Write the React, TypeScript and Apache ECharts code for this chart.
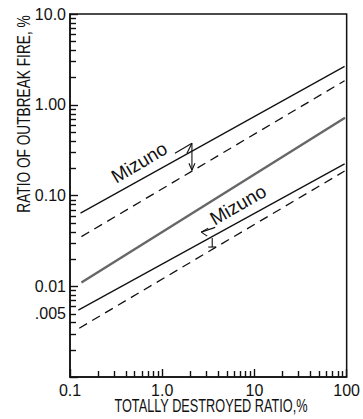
import React, { useEffect, useRef } from "react";
import * as echarts from "echarts";

const X_MIN = 0.1;
const X_MAX = 100;
const Y_MIN = 0.001;
const Y_MAX = 10;

const xMinorTicks = [0.2, 0.3, 0.4, 0.5, 0.6, 0.7, 0.8, 0.9, 2, 3, 4, 5, 6, 7, 8, 9, 20, 30, 40, 50, 60, 70, 80, 90];
const yMinorTicks = [
  0.002, 0.003, 0.004, 0.005, 0.006, 0.007, 0.008, 0.009,
  0.02, 0.03, 0.04, 0.05, 0.06, 0.07, 0.08, 0.09,
  0.2, 0.3, 0.4, 0.5, 0.6, 0.7, 0.8, 0.9,
  2, 3, 4, 5, 6, 7, 8, 9,
];

const xLabelValues = [0.1, 1, 10, 100];
const xLabelTexts = ["0.1", "1.0", "10", "100"];
const yLabelValues = [10, 1, 0.1, 0.01];
const yLabelTexts = ["10.0", "1.00", "0.10", "0.01"];
const yExtraLabelValues = [0.005];
const yExtraLabelTexts = [".005"];

// straight lines on log-log axes: [x start, x end], [y start, y end]
const line1X = [0.13, 95];
const line1Y = [0.064, 2.65];
const line2X = [0.133, 95];
const line2Y = [0.0352, 1.84];
const line3X = [0.133, 96];
const line3Y = [0.011, 0.72];
const line4X = [0.123, 95];
const line4Y = [0.00546, 0.223];
const line5X = [0.126, 95];
const line5Y = [0.00345, 0.186];

const annoText = "Mizuno";
const upperTextX = 0.33;
const upperArrowX = 2.1;
const lowerTextX = 3.85;
const lowerArrowX = 3.4;

const FONT = "'Liberation Sans', Arial, sans-serif";
const INK = "#111";

function lineY(xs: number[], ys: number[], x: number) {
  const t = (Math.log10(x) - Math.log10(xs[0])) / (Math.log10(xs[1]) - Math.log10(xs[0]));
  return Math.pow(10, Math.log10(ys[0]) + t * (Math.log10(ys[1]) - Math.log10(ys[0])));
}

function labelFor(values: number[], texts: string[], v: number) {
  for (let i = 0; i < values.length; i++) {
    if (Math.abs(Math.log10(v) - Math.log10(values[i])) < 1e-6) return texts[i];
  }
  return "";
}

export default function App() {
  const ref = useRef<HTMLDivElement>(null);
  useEffect(() => {
    if (!ref.current) return;
    const chart = echarts.init(ref.current, null, { renderer: "svg" });

    const mkLine = (xs: number[], ys: number[], width: number, type: any, color: string) => ({
      type: "line",
      data: [[xs[0], ys[0]], [xs[1], ys[1]]],
      showSymbol: false,
      symbol: "none",
      lineStyle: { color, width, type },
      silent: true,
      z: 3,
    });

    const axisCommon = {
      type: "log",
      logBase: 10,
      axisLine: { show: true, lineStyle: { color: INK, width: 1.5 } },
      axisTick: { show: true, inside: true, length: 8, lineStyle: { color: INK, width: 1.4 } },
      splitLine: { show: false },
      minorTick: { show: false },
    };

    chart.setOption({
      animation: false,
      backgroundColor: "#fff",
      grid: { left: 70, right: 11, top: 14, bottom: 42, show: true, borderColor: INK, borderWidth: 1.5 },
      xAxis: {
        ...axisCommon,
        min: X_MIN,
        max: X_MAX,
        axisLabel: {
          margin: 5,
          color: INK,
          fontSize: 16,
          fontFamily: FONT,
          formatter: (v: number) => labelFor(xLabelValues, xLabelTexts, v),
        },
      },
      yAxis: {
        ...axisCommon,
        min: Y_MIN,
        max: Y_MAX,
        axisLabel: {
          margin: 4,
          color: INK,
          fontSize: 16,
          fontFamily: FONT,
          formatter: (v: number) => labelFor(yLabelValues, yLabelTexts, v),
        },
      },
      series: [
        mkLine(line1X, line1Y, 1.3, "solid", INK),
        mkLine(line2X, line2Y, 1.3, [9, 6], INK),
        mkLine(line3X, line3Y, 2.4, "solid", "#666"),
        mkLine(line4X, line4Y, 1.3, "solid", INK),
        mkLine(line5X, line5Y, 1.3, [9, 6], INK),
      ],
    });

    const px = (x: number, y: number) =>
      chart.convertToPixel({ xAxisIndex: 0, yAxisIndex: 0 }, [x, y]) as number[];
    const angleOf = (xs: number[], ys: number[]) => {
      const a = px(xs[0], ys[0]);
      const b = px(xs[1], ys[1]);
      return Math.atan2(a[1] - b[1], b[0] - a[0]);
    };
    const ln = (x1: number, y1: number, x2: number, y2: number, w = 1.1) => ({
      type: "line",
      shape: { x1, y1, x2, y2 },
      style: { stroke: INK, lineWidth: w },
      z: 10,
    });
    const tk = (x1: number, y1: number, x2: number, y2: number) => ({
      type: "polyline",
      shape: { points: [[x1, y1], [x2, y2]] },
      style: { stroke: INK, lineWidth: 1.4, fill: null },
      z: 12,
    });

    const ticks: any[] = [];
    xMinorTicks.forEach((v) => {
      const p = px(v, Y_MIN);
      ticks.push(tk(Math.round(p[0]) + 0.5, p[1], Math.round(p[0]) + 0.5, p[1] - 6));
    });
    yMinorTicks.forEach((v) => {
      const p = px(X_MIN, v);
      ticks.push(tk(p[0], Math.round(p[1]) + 0.5, p[0] + 6, Math.round(p[1]) + 0.5));
    });
    yExtraLabelValues.forEach((v, i) => {
      const p = px(X_MIN, v);
      ticks.push({
        type: "text",
        x: p[0] - 4,
        y: p[1],
        style: {
          text: yExtraLabelTexts[i],
          align: "right",
          verticalAlign: "middle",
          fontSize: 16,
          fontFamily: FONT,
          fill: INK,
        },
        z: 10,
      });
    });

    const a1 = angleOf(line1X, line1Y);
    const a4 = angleOf(line4X, line4Y);
    const T1 = px(upperTextX, lineY(line1X, line1Y, upperTextX));
    const A = px(upperArrowX, lineY(line1X, line1Y, upperArrowX));
    const B = px(upperArrowX, lineY(line2X, line2Y, upperArrowX));
    const T2 = px(lowerTextX, lineY(line4X, line4Y, lowerTextX));
    const C = px(lowerArrowX, lineY(line4X, line4Y, lowerArrowX));
    const D = px(lowerArrowX, lineY(line5X, line5Y, lowerArrowX));

    chart.setOption({
      graphic: [
        {
          type: "text",
          x: T1[0],
          y: T1[1] - 6,
          rotation: a1 + 0.03,
          style: { text: annoText, fontSize: 19, fontFamily: FONT, fill: INK, align: "left", verticalAlign: "bottom" },
          z: 10,
        },
        ln(A[0] - 17, A[1] + 2, A[0], A[1] - 8),
        ln(A[0], A[1] - 8, A[0] - 5, A[1] + 2),
        ln(A[0], A[1] - 8, B[0], B[1] - 1),
        ln(B[0], B[1] - 1, B[0] - 3, B[1] - 8),
        ln(B[0], B[1] - 1, B[0] + 3, B[1] - 8),
        {
          type: "text",
          x: T2[0],
          y: T2[1] - 6,
          rotation: a4 + 0.02,
          style: { text: annoText, fontSize: 19, fontFamily: FONT, fill: INK, align: "left", verticalAlign: "bottom" },
          z: 10,
        },
        ln(T2[0] - 1, T2[1] - 7, C[0] - 10, C[1] - 5),
        ln(C[0] - 10, C[1] - 5, C[0] - 3, C[1] - 9),
        ln(C[0] - 10, C[1] - 5, C[0] - 4, C[1] - 1),
        ln(C[0] + 1, C[1] + 1, D[0] + 1, D[1] - 3),
        ln(D[0] - 3, D[1] - 3, D[0] + 5, D[1] - 3),
        {
          type: "text",
          x: 211,
          y: 405,
          scaleX: 0.67,
          style: {
            text: "TOTALLY DESTROYED RATIO,%",
            fontSize: 19,
            fontFamily: FONT,
            fill: INK,
            align: "center",
            verticalAlign: "middle",
          },
        },
        {
          type: "text",
          x: 24,
          y: 114,
          rotation: Math.PI / 2,
          scaleX: 0.72,
          style: {
            text: "RATIO OF OUTBREAK FIRE, %",
            fontSize: 19,
            fontFamily: FONT,
            fill: INK,
            align: "center",
            verticalAlign: "middle",
          },
        },
        ...ticks,
      ],
    });

    return () => chart.dispose();
  }, []);

  return (
    <div
      ref={ref}
      style={{ position: "fixed", left: 0, top: 0, width: 363, height: 419, background: "#fff" }}
    />
  );
}
